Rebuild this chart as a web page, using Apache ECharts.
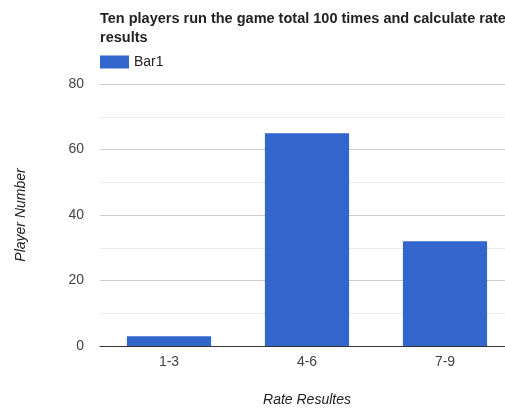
<!DOCTYPE html>
<html>
<head>
<meta charset="utf-8">
<script src="https://cdn.jsdelivr.net/npm/echarts@6/dist/echarts.min.js"></script>
<style>
  html, body { margin: 0; padding: 0; background: #fff; overflow: hidden; }
  #wrap { width: 505px; height: 412px; overflow: hidden; position: relative; }
  #main { position: absolute; left: 0; top: 0; width: 514px; height: 412px; }
</style>
</head>
<body>
<div id="wrap"><div id="main"></div></div>
<script>
  // 数据
  const categories = ['1-3', '4-6', '7-9'];
  const bar1 = [3, 65, 32];
  const yTicks = [0, 20, 40, 60, 80];

  const chart = echarts.init(document.getElementById('main'));
  const font = '"Liberation Sans", Arial, sans-serif';

  const option = {
    animation: false,
    textStyle: { fontFamily: font },
    title: {
      text: 'Ten players run the game total 100 times and calculate rate\nresults',
      left: 100,
      top: 9,
      padding: 0,
      textStyle: { fontSize: 14.5, fontWeight: 'bold', color: '#222', fontFamily: font, lineHeight: 19 }
    },
    legend: {
      data: ['Bar1'],
      left: 100,
      top: 55,
      padding: 0,
      itemWidth: 29,
      itemHeight: 13,
      itemGap: 5,
      icon: 'rect',
      textStyle: { fontSize: 14, color: '#222', fontFamily: font }
    },
    grid: {
      left: 100,
      right: 0,
      top: 84,
      bottom: 61,
      containLabel: false
    },
    xAxis: {
      type: 'category',
      data: categories,
      name: 'Rate Resultes',
      nameLocation: 'middle',
      nameGap: 47,
      nameTextStyle: { fontStyle: 'italic', fontSize: 14, color: '#222', fontFamily: font },
      axisLine: { lineStyle: { color: '#333' } },
      axisTick: { show: false },
      axisLabel: { fontSize: 14, color: '#444', margin: 9, fontFamily: font }
    },
    yAxis: {
      type: 'value',
      min: yTicks[0],
      max: yTicks[yTicks.length - 1],
      interval: 20,
      name: 'Player Number',
      nameLocation: 'middle',
      nameGap: 72,
      nameTextStyle: { fontStyle: 'italic', fontSize: 14, color: '#222', fontFamily: font },
      axisLine: { show: false },
      axisTick: { show: false },
      axisLabel: { fontSize: 14, color: '#444', margin: 16, fontFamily: font },
      splitLine: { lineStyle: { color: '#ccc' } },
      minorTick: { show: false, splitNumber: 2 },
      minorSplitLine: { show: true, lineStyle: { color: '#ebebeb' } }
    },
    series: [{
      name: 'Bar1',
      type: 'bar',
      data: bar1,
      barCategoryGap: '39%',
      itemStyle: { color: '#3366cc' }
    }]
  };

  option && chart.setOption(option);
</script>
</body>
</html>
